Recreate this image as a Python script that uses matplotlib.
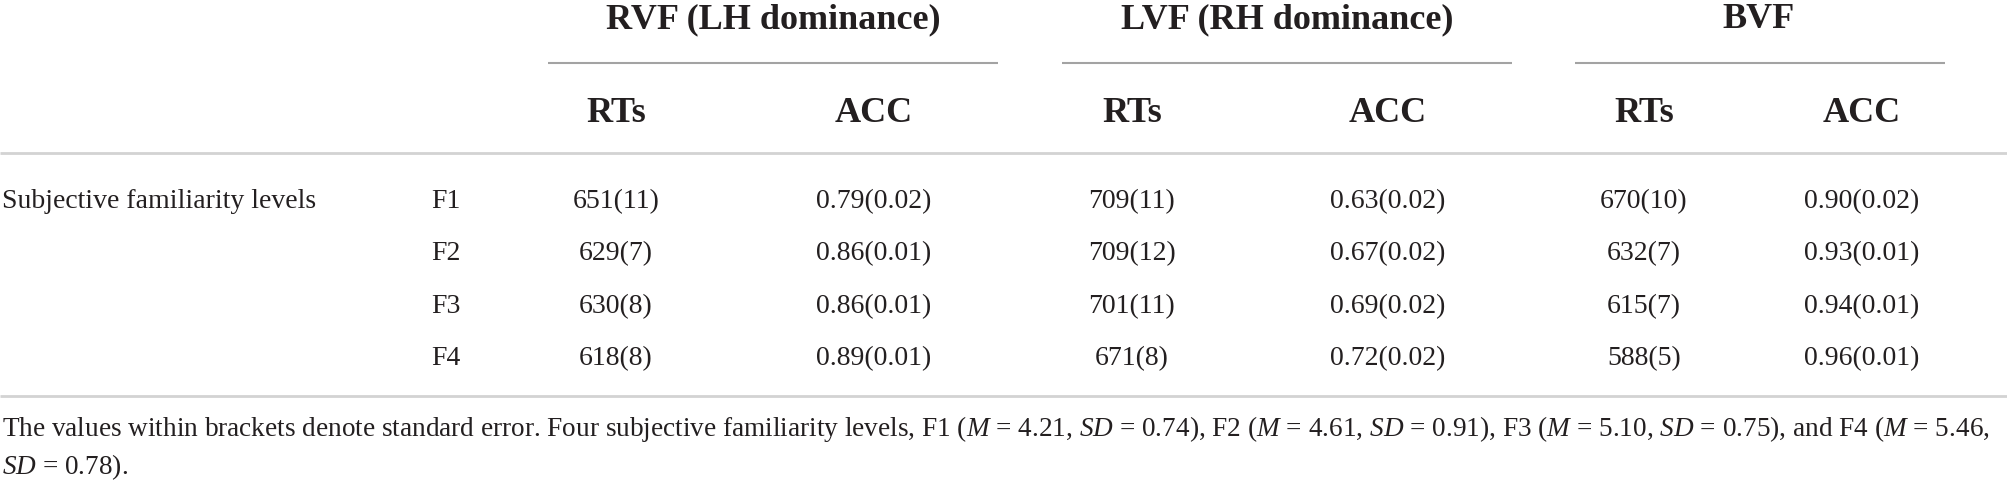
import matplotlib
matplotlib.use("Agg")
import matplotlib.pyplot as plt

# ---- data ----
groups = ["RVF (LH dominance)", "LVF (RH dominance)", "BVF"]
subcols = ["RTs", "ACC"]
row_group = "Subjective familiarity levels"
levels = ["F1", "F2", "F3", "F4"]

rvf_rt = [651, 629, 630, 618]
rvf_rt_se = [11, 7, 8, 8]
rvf_acc = [0.79, 0.86, 0.86, 0.89]
rvf_acc_se = [0.02, 0.01, 0.01, 0.01]

lvf_rt = [709, 709, 701, 671]
lvf_rt_se = [11, 12, 11, 8]
lvf_acc = [0.63, 0.67, 0.69, 0.72]
lvf_acc_se = [0.02, 0.02, 0.02, 0.02]

bvf_rt = [670, 632, 615, 588]
bvf_rt_se = [10, 7, 7, 5]
bvf_acc = [0.90, 0.93, 0.94, 0.96]
bvf_acc_se = [0.02, 0.01, 0.01, 0.01]

footnote_1 = (r"The values within brackets denote standard error. Four subjective familiarity levels, "
              r"F1 ($M$ = 4.21, $SD$ = 0.74), F2 ($M$ = 4.61, $SD$ = 0.91), F3 ($M$ = 5.10, $SD$ = 0.75), "
              r"and F4 ($M$ = 5.46,")
footnote_2 = r"$SD$ = 0.78)."

# ---- style ----
plt.rcParams["font.family"] = ["Liberation Serif", "DejaVu Serif"]
plt.rcParams["mathtext.fontset"] = "custom"
plt.rcParams["mathtext.rm"] = "Liberation Serif"
plt.rcParams["mathtext.it"] = "Liberation Serif:italic"

W, H = 2008, 481
fig = plt.figure(figsize=(W / 100, H / 100), dpi=100)
ax = fig.add_axes([0, 0, 1, 1])
ax.set_xlim(0, W)
ax.set_ylim(H, 0)
ax.axis("off")

txt = "#231f20"
body_fs = 20
head_fs = 26
foot_fs = 19.6

group_x = [773, 1287, 1759]
group_rule = [(548, 998), (1062, 1512), (1575, 1945)]
col_x = [616, 874, 1132, 1388, 1644, 1862]
row_base = [208, 260, 313, 365]

# group headers
for g, gx, (x0, x1) in zip(groups, group_x, group_rule):
    ax.text(gx, 28, g, ha="center", va="baseline", fontsize=head_fs,
            fontweight="bold", color=txt)
    ax.hlines(64, x0, x1, color="#a3a3a3", lw=1.5)

# sub headers
for i, cx in enumerate(col_x):
    ax.text(cx, 122, subcols[i % 2], ha="center", va="baseline",
            fontsize=head_fs, fontweight="bold", color=txt)

# full-width rules
ax.hlines(154, 0, W, color="#d3d3d3", lw=2)
ax.hlines(397, 0, W, color="#d3d3d3", lw=2)

# body
ax.text(2, row_base[0], row_group, ha="left", va="baseline", fontsize=body_fs, color=txt)
cols = [
    (rvf_rt, rvf_rt_se, "{:d}({:d})"),
    (rvf_acc, rvf_acc_se, "{:.2f}({:.2f})"),
    (lvf_rt, lvf_rt_se, "{:d}({:d})"),
    (lvf_acc, lvf_acc_se, "{:.2f}({:.2f})"),
    (bvf_rt, bvf_rt_se, "{:d}({:d})"),
    (bvf_acc, bvf_acc_se, "{:.2f}({:.2f})"),
]
for r, (lev, yb) in enumerate(zip(levels, row_base)):
    ax.text(446, yb, lev, ha="center", va="baseline", fontsize=body_fs, color=txt)
    for (vals, ses, fmt), cx in zip(cols, col_x):
        ax.text(cx, yb, fmt.format(vals[r], ses[r]), ha="center", va="baseline",
                fontsize=body_fs, color=txt)

# footnote
ax.text(2, 436, footnote_1, ha="left", va="baseline", fontsize=foot_fs, color=txt)
ax.text(2, 474, footnote_2, ha="left", va="baseline", fontsize=foot_fs, color=txt)

fig.savefig("out.png", dpi=100)
